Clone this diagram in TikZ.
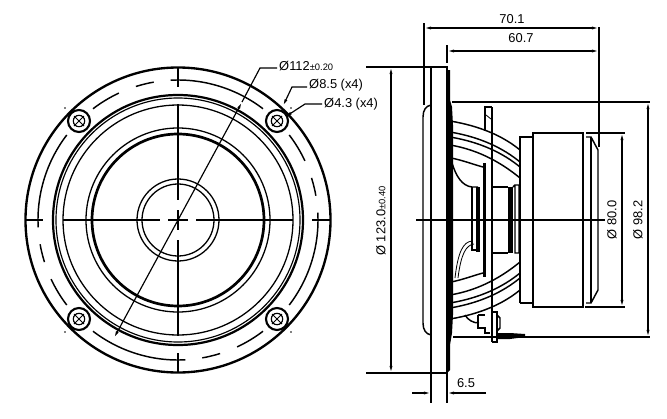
\documentclass[tikz,border=0pt]{standalone}
\usepackage{fontspec}
\setmainfont{Liberation Sans}
\usetikzlibrary{arrows.meta}
\tikzset{
    dimline/.style={line width=1pt},
    dimarrow/.style={line width=1pt, {Latex[length=6pt,width=2.6pt]}-{Latex[length=6pt,width=2.6pt]}},
    endarrow/.style={line width=1pt, -{Latex[length=6pt,width=2.6pt]}},
    body/.style={line width=1.25pt},
    dimtext/.style={font=\fontsize{11}{11}\selectfont, inner sep=0pt}
}
\newcommand{\tol}[1]{{\fontsize{8}{8}\selectfont #1}}
\begin{document}
\begin{tikzpicture}[x=.03cm, y=-.03cm]
    \useasboundingbox (0,0) rectangle (667,419);
    % front view
    \draw[line width=2pt] (178,220) circle[radius=152.5];
    \foreach \r/\w in {125/1.9, 122/1, 115/1.1, 92/1.1, 86/2.3, 41/1.1, 36/1.1}
        \draw[line width=\w pt] (178,220) circle[radius=\r];
    \foreach \a in {0,90,180,270}
        \foreach \s/\e in {3/-37.4, -52.6/-65, -72.5/-80}
            \draw[body] ({178+140*cos(\a+\s)},{220-140*sin(\a+\s)})
                arc[start angle={-(\a+\s)}, end angle={-(\a+\e)}, radius=140];
    \foreach \x/\y in {79/121, 277/121, 79/319, 277/319} {
        \draw[line width=1.8pt] (\x,\y) circle[radius=11];
        \draw[line width=1pt] (\x,\y) circle[radius=5.7];
        \draw[line width=.8pt] (\x-5,\y-5) -- (\x+5,\y+5) (\x-5,\y+5) -- (\x+5,\y-5);
    }
    \foreach \x/\y in {65/108, 291/108, 65/332, 291/332}
        \fill (\x,\y) circle[radius=.8];
    \foreach \a/\b in {25/43, 63/160, 168/188, 196/293, 312/330}
        \draw[dimline] (\a,220) -- (\b,220);
    \foreach \a/\b in {67/87, 104/200, 210/230, 240/336, 353/373}
        \draw[dimline] (178,\a) -- (178,\b);
    % front labels
    \node[dimtext, anchor=west] (dia112) at (279,66) {Ø112\tol{±0.20}};
    \node[dimtext, anchor=west] (dia85) at (309,85) {Ø8.5 (x4)};
    \node[dimtext, anchor=west] (dia43) at (324,104) {Ø4.3 (x4)};
    \coordinate (lead112) at (260,68);
    \coordinate (tip112a) at (242,102);
    \coordinate (tip112b) at (114,338);
    \coordinate (lead85) at (292,87);
    \coordinate (tip85) at (283,106);
    \coordinate (lead43) at (305,104);
    \coordinate (tip43) at (285,117);
    \draw[dimline] (dia112.west) ++(-2,2) -- (lead112) -- (tip112a);
    \draw[dimarrow] (tip112a) -- (tip112b);
    \draw[endarrow] (dia85.west) ++(-2,2) -- (lead85) -- (tip85);
    \draw[endarrow] (dia43.west) ++(-2,0) -- (lead43) -- (tip43);
    % side view
    \draw[body] (431,373) -- (431,67) -- (447,67) -- (447,373) -- cycle;
    \fill (447,70) -- (450,70) -- (450,100) -- (452,107) -- (453,125) -- (453,315) -- (452,333) -- (450,345) -- (450,370) -- (447,373) -- cycle;
    \draw[body] (431,105) .. controls (426,106) and (423,110) .. (423,117) -- (423,323)
        .. controls (423,330) and (426,334) .. (431,335);
    \foreach \ya/\yb/\ca/\cb in {121/150/480/503, 132/162/480/503, 137/167/480/503, 145/178/480/503} {
        \draw[body] (450,\ya) .. controls (\ca,{\ya+5}) and (\cb,{\yb-14}) .. (520,\yb);
        \draw[body] (450,{440-\ya}) .. controls (\ca,{435-\ya}) and (\cb,{454-\yb}) .. (520,{440-\yb});
    }
    \draw[body] (451,158) .. controls (462,160) and (475,165) .. (483,167);
    \draw[body] (451,282) .. controls (462,280) and (475,275) .. (483,273);
    \draw[body] (452,163) .. controls (456,176) and (462,186) .. (472,187) -- (478,187);
    \draw[body] (493,187) -- (508,187);
    \draw[body] (492,253) -- (508,253);
    \draw[body] (472,187) -- (472,250) -- (476,250);
    \fill (476,187) rectangle (480,252);
    \fill (483,163) rectangle (486,277);
    \draw[line width=1.7pt] (492,107) -- (492,342);
    \draw[body] (492,107) -- (485,107) -- (485,131);
    \draw[line width=.7pt] (486,115) -- (491,119);
    \fill (508,187) rectangle (513,253);
    \draw[body] (513,187) -- (515,185) -- (519,185) -- (519,253) -- (515,253) -- (515,185);
    \draw[line width=.7pt] (472,241) .. controls (463,242) and (458,252) .. (455,278)
        (474,244) .. controls (466,245) and (461,254) .. (458,278);
    \draw[body] (465,315) .. controls (468,320) and (473,323) .. (479,323);
    \draw[body] (478,315) -- (485,315) (478,315) -- (478,328) -- (485,328) -- (485,333) -- (490,333);
    \draw[body] (492,312) -- (497,312) -- (497,342) -- (492,342);
    \draw[body] (497,315) -- (500,318) -- (500,328) -- (497,331);
    \fill (497,333) -- (510,333) -- (525,334) -- (525,337) -- (510,339) -- (497,339) -- cycle;
    \draw[body] (520,303) -- (520,137) -- (533,137);
    \draw[body] (520,303) -- (533,303);
    \draw[body] (533,133) rectangle (583,307);
    \draw[body] (586,137) -- (591,137) -- (598,150) -- (598,290) -- (591,303) -- (586,303);
    \draw[body] (591,137) -- (591,303);
    % side dimensions
    \draw[dimline] (416,220) -- (605,220);
    \draw[dimline] (366,67) -- (431,67);
    \draw[dimline] (366,373) -- (431,373);
    \draw[dimline] (424,23) -- (424,105);
    \draw[dimline] (447,45) -- (447,63);
    \draw[dimline] (599,27) -- (599,147);
    \draw[dimline] (452,102) -- (650,102);
    \draw[dimline] (453,337) -- (650,337);
    \draw[dimline] (586,133) -- (625,133);
    \draw[dimline] (585,307) -- (625,307);
    \draw[dimarrow] (424,28) -- (599,28);
    \draw[dimarrow] (447,51) -- (599,51);
    \draw[dimarrow] (391,67) -- (391,373);
    \draw[dimarrow] (622,133) -- (622,307);
    \draw[dimarrow] (648,102) -- (648,337);
    \draw[dimline] (431,373) -- (431,403);
    \draw[dimline] (447,373) -- (447,403);
    \draw[endarrow] (412,393) -- (431,393);
    \draw[endarrow] (486,393) -- (447,393);
    \node[dimtext] (len701) at (512,19) {70.1};
    \node[dimtext] (len607) at (521,38) {60.7};
    \node[dimtext] (len65) at (466,383) {6.5};
    \node[dimtext, rotate=90] (dia123) at (381,221) {Ø 123.0\tol{±0.40}};
    \node[dimtext, rotate=90] (dia80) at (612,220) {Ø 80.0};
    \node[dimtext, rotate=90] (dia982) at (638,220) {Ø 98.2};
\end{tikzpicture}
\end{document}
